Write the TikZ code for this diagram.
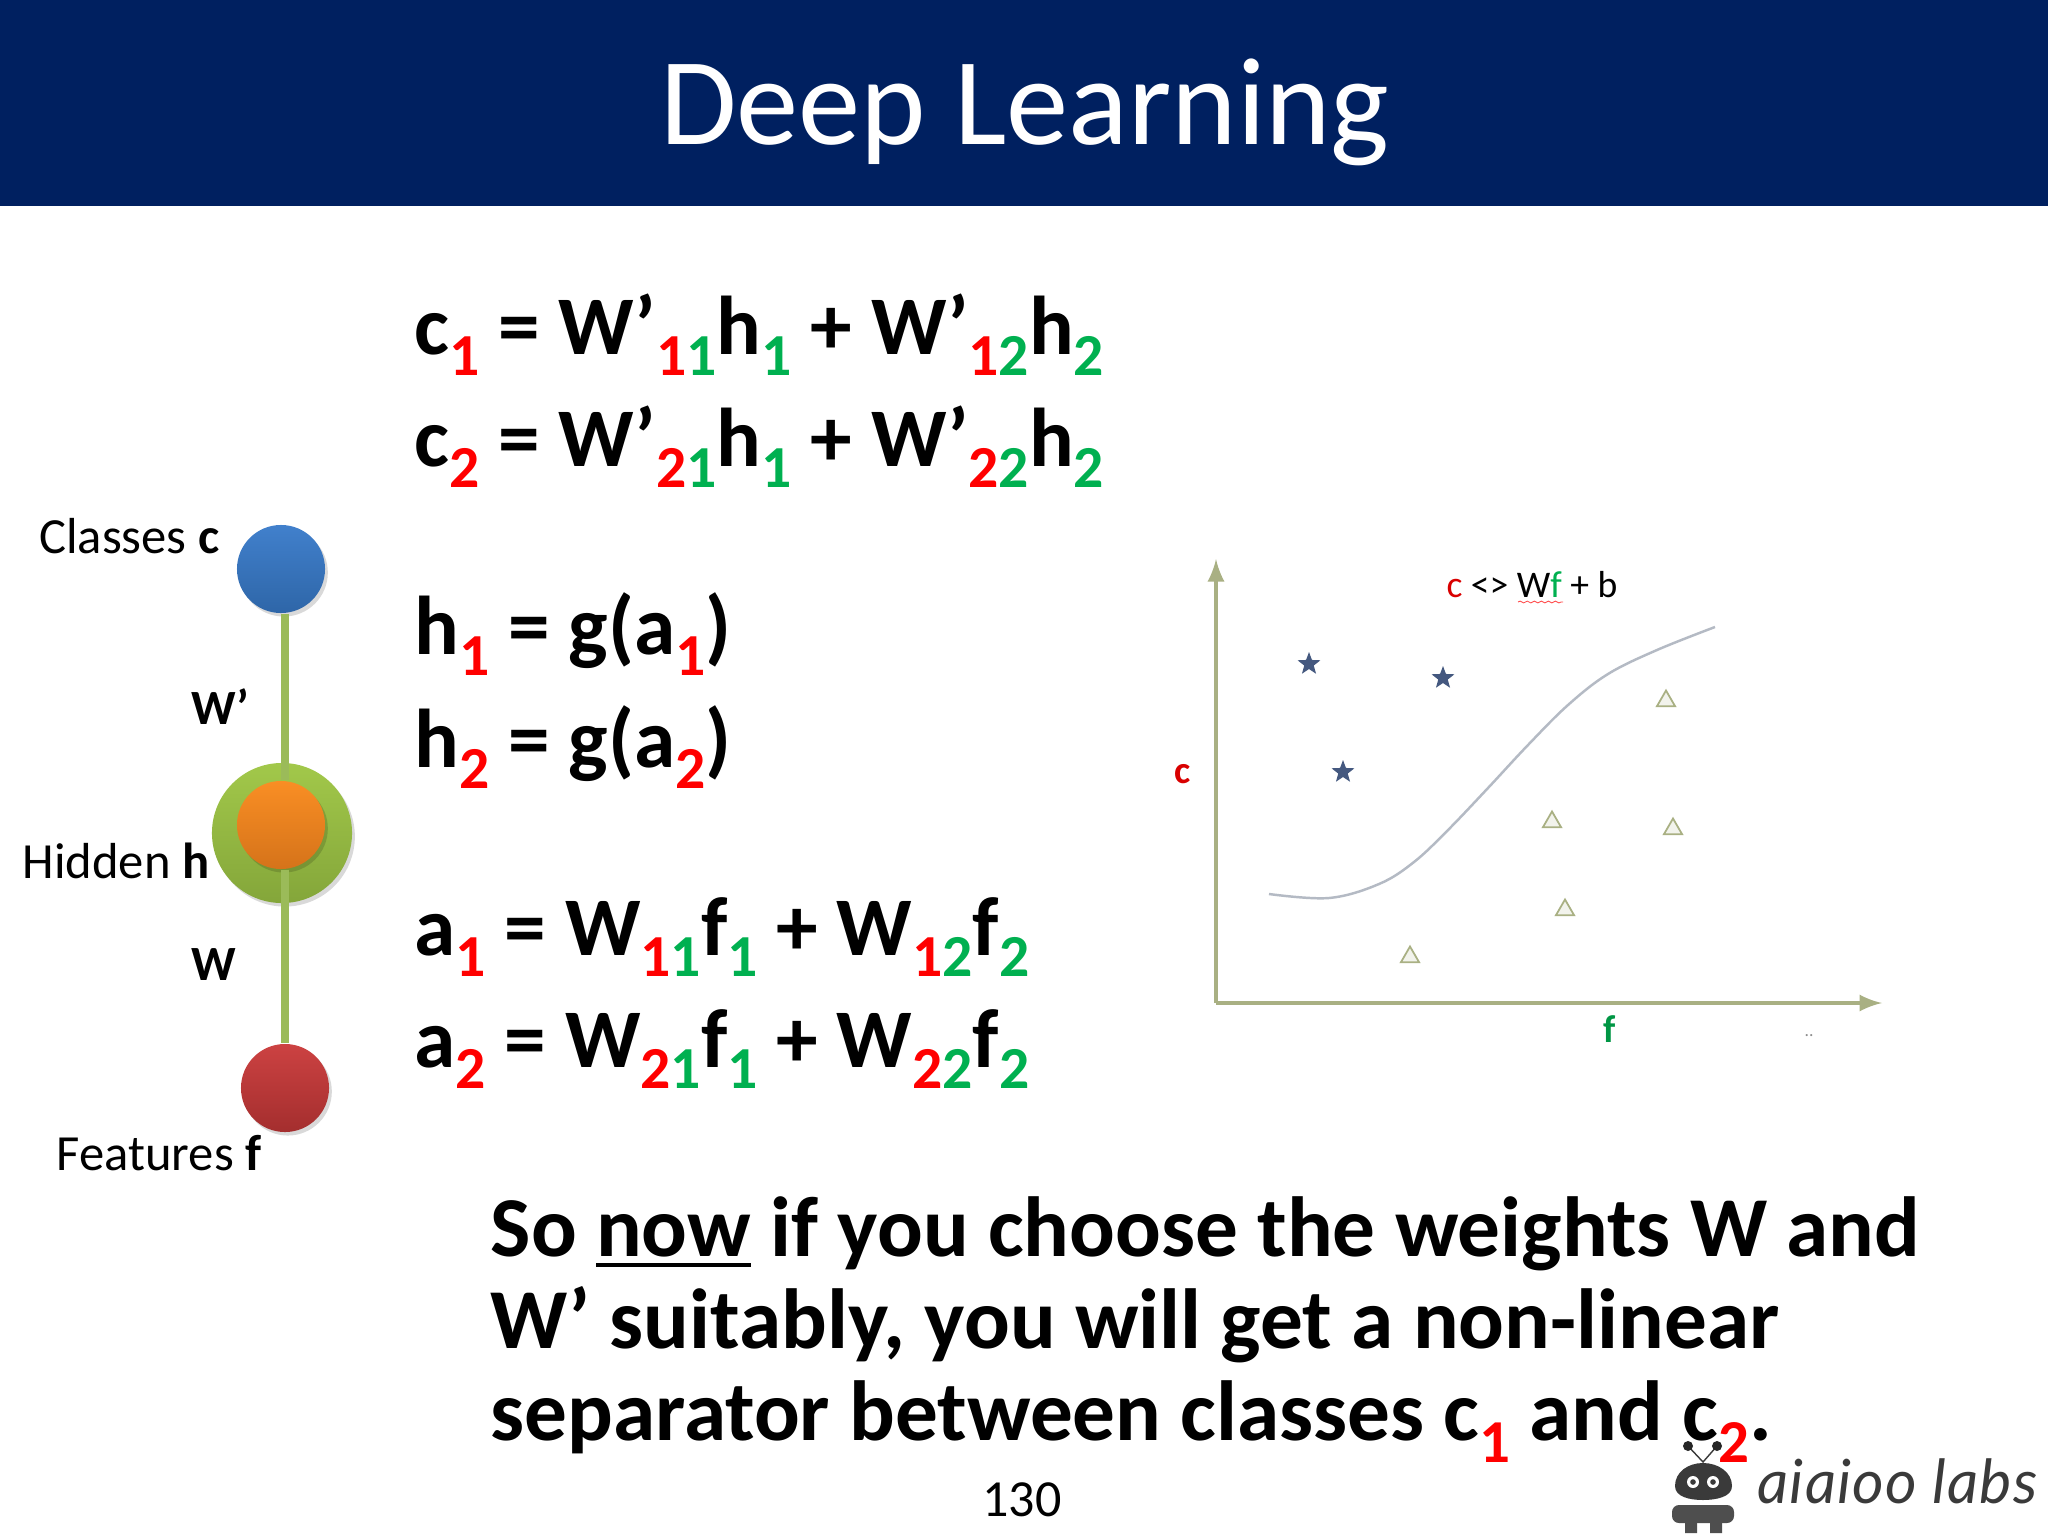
\documentclass[tikz,border=0pt]{standalone}
\usepackage{fontspec}
\setmainfont{Carlito}
\newfontfamily\logofont[LetterSpace=2]{Lato}
\usetikzlibrary{shapes.geometric,shadows,decorations.pathmorphing}
\definecolor{bannerblue}{HTML}{002060}
\definecolor{subred}{HTML}{FF0000}
\definecolor{subgreen}{HTML}{00B050}
\definecolor{axisolive}{HTML}{A9B083}
\definecolor{linkgreen}{HTML}{9BBB59}
\definecolor{logogray}{HTML}{3A3A3A}
\definecolor{starblue}{HTML}{44587F}
\definecolor{curvegray}{HTML}{B4BAC4}
\definecolor{ringtop}{HTML}{A2C84A}
\definecolor{ringbottom}{HTML}{84A63A}
\definecolor{hiddentop}{HTML}{F98E24}
\definecolor{hiddenbottom}{HTML}{D5731A}
\definecolor{classtop}{HTML}{4180CC}
\definecolor{classbottom}{HTML}{2E66A8}
\definecolor{featuretop}{HTML}{CC4242}
\definecolor{featurebottom}{HTML}{A42E2E}
\newcommand{\rsub}[1]{\raisebox{-0.26em}{\scalebox{0.715}{\textcolor{subred}{#1}}}}
\newcommand{\gsub}[1]{\raisebox{-0.26em}{\scalebox{0.715}{\textcolor{subgreen}{#1}}}}
\newcommand{\thickul}[1]{\setbox0\hbox{#1}\rlap{\rule[-0.13em]{\wd0}{0.05em}}#1}
\tikzset{
  eqline/.style={anchor=base west,inner sep=0pt,font=\fontsize{23.7}{28}\selectfont\bfseries},
  bigline/.style={anchor=base west,inner sep=0pt,font=\fontsize{24.25}{28}\selectfont\bfseries},
  graphlabel/.style={inner sep=0pt,font=\fontsize{14.4}{16}\selectfont},
  ball/.style={circle,minimum size=0.88cm,inner sep=0pt,
    drop shadow={shadow xshift=0.8pt,shadow yshift=-1pt,fill=black,opacity=0.15}},
  link/.style={draw=linkgreen,line width=2pt},
  axisline/.style={draw=axisolive,line width=1.2pt,-{latex}},
  starmark/.style={star,star points=5,star point ratio=2.4,minimum size=0.24cm,inner sep=0pt,fill=starblue},
  trimark/.style={regular polygon,regular polygon sides=3,minimum size=0.21cm,inner sep=0pt,draw=axisolive,line width=0.5pt,fill=axisolive!15},
}
\begin{document}
\begin{tikzpicture}[x=0.01cm,y=-0.01cm]
  \useasboundingbox[fill=white] (0,0) rectangle (2048,1536);
  % banner
  \fill[bannerblue] (0,0) rectangle (2048,206);
  \node[text=white,inner sep=0pt,font=\fontsize{35.4}{40}\selectfont] (title) at (1025,112) {Deep Learning};
  % equations
  \node[eqline] (c1) at (414,354) {c\rsub{1} = W’\rsub{1}\gsub{1}h\gsub{1} + W’\rsub{1}\gsub{2}h\gsub{2}};
  \node[eqline] (c2) at (414,466) {c\rsub{2} = W’\rsub{2}\gsub{1}h\gsub{1} + W’\rsub{2}\gsub{2}h\gsub{2}};
  \node[eqline] (h1) at (414,654) {h\rsub{1} = g(a\rsub{1})};
  \node[eqline] (h2) at (414,767) {h\rsub{2} = g(a\rsub{2})};
  \node[eqline] (a1) at (414,955) {a\rsub{1} = W\rsub{1}\gsub{1}f\gsub{1} + W\rsub{1}\gsub{2}f\gsub{2}};
  \node[eqline] (a2) at (414,1067) {a\rsub{2} = W\rsub{2}\gsub{1}f\gsub{1} + W\rsub{2}\gsub{2}f\gsub{2}};
  % network
  \node[ball,minimum size=1.4cm,top color=ringtop,bottom color=ringbottom] (hiddenring) at (282,833) {};
  \node[ball,top color=hiddentop,bottom color=hiddenbottom] (hidden) at (281,825) {};
  \node[ball,top color=classtop,bottom color=classbottom] (classes) at (281,569) {};
  \node[ball,top color=featuretop,bottom color=featurebottom] (features) at (285,1088) {};
  \draw[link] (classes.south -| features.north) -- (hidden.north -| features.north);
  \draw[link] (hidden.south -| features.north) -- (features.north);
  \node[graphlabel,anchor=base east] (classeslabel) at (220,553) {Classes \textbf{c}};
  \node[graphlabel,anchor=base east] (hiddenlabel) at (210,878) {Hidden \textbf{h}};
  \node[graphlabel,anchor=base east] (featureslabel) at (262,1170) {Features \textbf{f}};
  \node[graphlabel,anchor=base west,font=\fontsize{14}{16}\selectfont\bfseries] (wprime) at (191,724) {W’};
  \node[graphlabel,anchor=base west,font=\fontsize{14}{16}\selectfont\bfseries] (wplain) at (191,980) {W};
  % chart
  \coordinate (origin) at (1216,1003);
  \coordinate (ytop) at (1216,559);
  \coordinate (xend) at (1882,1003);
  \draw[axisline] (origin) -- (ytop);
  \draw[axisline] (origin) -- (xend);
  \draw[draw=curvegray,line width=0.7pt] plot[smooth,tension=0.6] coordinates {
    (1269,894) (1329,898) (1379,884) (1414,862) (1448,830) (1488,788) (1528,745) (1568,705) (1608,674) (1657,650) (1715,627)};
  \node[starmark] (s1) at (1309,664) {};
  \node[starmark] (s2) at (1443,678) {};
  \node[starmark] (s3) at (1343,772) {};
  \node[trimark] (t1) at (1666,701) {};
  \node[trimark] (t2) at (1552,822) {};
  \node[trimark] (t3) at (1673,829) {};
  \node[trimark] (t4) at (1565,910) {};
  \node[trimark] (t5) at (1410,957) {};
  \node[inner sep=0pt,text=red!85!black,font=\fontsize{11}{12}\selectfont\bfseries] (clabel) at (1183,774) {c};
  \node[inner sep=0pt,text=subgreen!85!black,font=\fontsize{11}{12}\selectfont\bfseries] (flabel) at (1610,1029) {f};
  \node[inner sep=0pt,font=\fontsize{10.7}{12}\selectfont] (sep) at (1532,585)
    {\textcolor{red!85!black}{c} <> W\textcolor{subgreen}{f} + b};
  \coordinate (wavea) at (1518,602);
  \coordinate (waveb) at (1563,602);
  \draw[red!70,line width=0.25pt,decorate,decoration={snake,amplitude=0.25pt,segment length=2pt}] (wavea) -- (waveb);
  \node[inner sep=0pt,text=black!45,font=\fontsize{5}{6}\selectfont] (dots) at (1809,1036) {..};
  % closing text
  \node[bigline] (l1) at (490,1256) {So \thickul{now} if you choose the weights W and};
  \node[bigline] (l2) at (490,1348) {W’ suitably, you will get a non-linear};
  % robot logo
  \draw[logogray,line width=0.4pt] (1688,1446) -- (1703,1462) -- (1717,1446);
  \fill[black!85] (1688,1446) circle (5) (1717,1446) circle (5);
  \fill[logogray] (1675,1486) .. controls (1675,1472) and (1688,1463) .. (1703,1463)
    .. controls (1718,1463) and (1732,1472) .. (1732,1486)
    .. controls (1732,1497) and (1716,1500) .. (1703,1500)
    .. controls (1690,1500) and (1675,1497) .. (1675,1486) -- cycle;
  \fill[white] (1693,1482) circle (6) (1713,1482) circle (6);
  \fill[logogray] (1693,1482) circle (2.8) (1713,1482) circle (2.8);
  \fill[logogray!90!white,rounded corners=0.07cm] (1672,1505) rectangle (1734,1523);
  \fill[logogray!90!white] (1685,1521) rectangle (1697,1533) (1710,1521) rectangle (1722,1533);
  \node[anchor=base west,inner sep=0pt,text=logogray,font=\fontsize{17.3}{20}\selectfont\logofont\itshape] (logotext) at (1757,1503) {aiaioo labs};
  \node[bigline] (l3) at (490,1440) {separator between classes c\rsub{1} and c\rsub{2}.};
  \node[inner sep=0pt,font=\fontsize{14.8}{16}\selectfont] (pagenum) at (1022,1500) {130};
\end{tikzpicture}
\end{document}
